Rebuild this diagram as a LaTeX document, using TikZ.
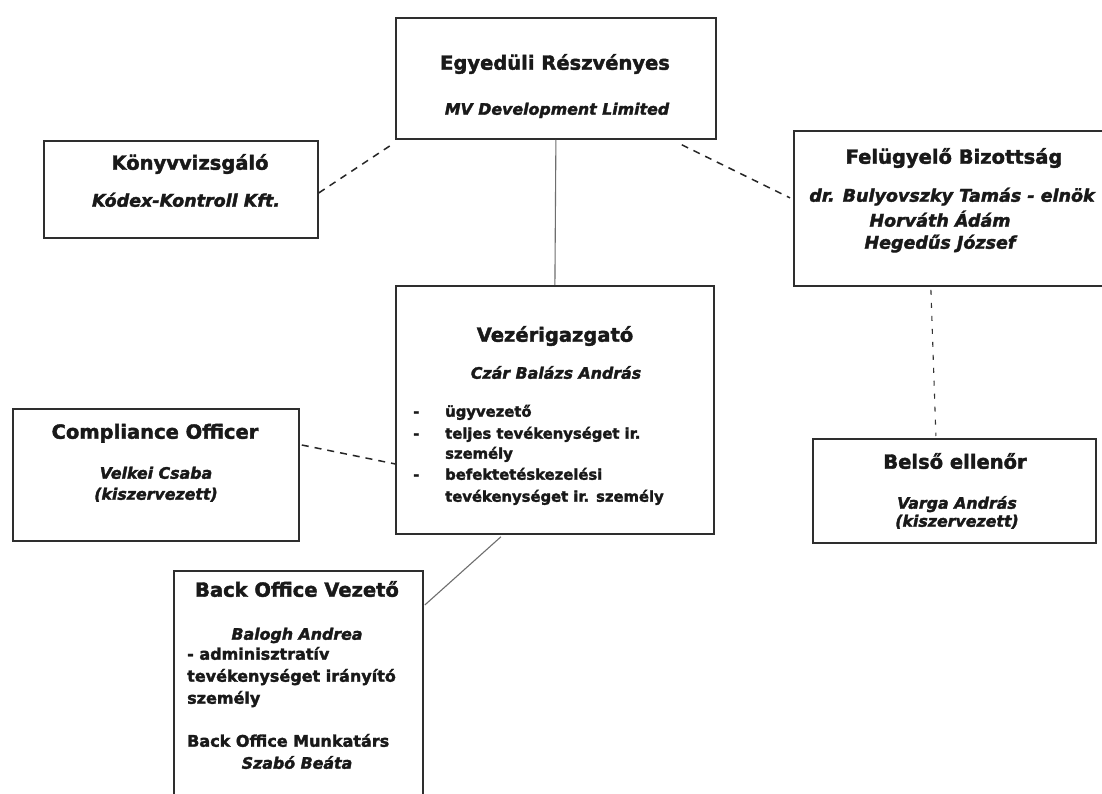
\documentclass[tikz,border=0pt]{standalone}
\usepackage{fontspec}
\setmainfont{DejaVu Sans}[BoldFeatures={FakeBold=2},BoldItalicFeatures={FakeBold=2}]
\definecolor{boxcol}{HTML}{2E2E2E}
\definecolor{solidcol}{HTML}{6E6E6E}
\newcommand\ttlsz{\fontsize{19.5}{23}\selectfont\bfseries}
\newcommand\itsz{\fontsize{15.8}{19}\selectfont\bfseries\itshape}
\newcommand\itbigsz{\fontsize{17.5}{21}\selectfont\bfseries\itshape}
\newcommand\bdsz{\fontsize{14.8}{18}\selectfont\bfseries}
\newcommand\bdbigsz{\fontsize{16}{19}\selectfont\bfseries}
\begin{document}
\begin{tikzpicture}[x=1pt,y=-1pt,
  orgbox/.style={draw=boxcol, line width=1.8pt, inner sep=0pt, anchor=north west},
  txt/.style={text=black!90, inner sep=0pt, yshift=-4pt},
  ttl/.style={txt, font=\ttlsz, anchor=mid},
  nm/.style={txt, font=\itsz, anchor=mid},
  nmbig/.style={txt, font=\itbigsz, anchor=mid},
  bd/.style={txt, font=\bdsz, anchor=mid west},
  bdbig/.style={txt, font=\bdbigsz, anchor=mid west},
  dashline/.style={draw=black!85, line width=1.5pt, dash pattern=on 7pt off 6pt},
  dotline/.style={draw=black!80, line width=1.1pt, dash pattern=on 5pt off 8pt},
  solidline/.style={draw=solidcol, line width=1.1pt}]
\useasboundingbox (0,0) rectangle (1102,794);
\fill[white] (0,0) rectangle (1102,794);
% boxes
\node[orgbox, minimum width=320pt, minimum height=121pt] (egy) at (395,17) {};
\node[orgbox, minimum width=274pt, minimum height=97pt] (konyv) at (43,140) {};
\node[orgbox, minimum width=317pt, minimum height=155pt] (felu) at (793,130) {};
\node[orgbox, minimum width=318pt, minimum height=248pt] (vez) at (395,285) {};
\node[orgbox, minimum width=286pt, minimum height=132pt] (comp) at (12,408) {};
\node[orgbox, minimum width=283pt, minimum height=104pt] (belso) at (812,438) {};
\node[orgbox, minimum width=249pt, minimum height=240pt] (back) at (173,570) {};
% texts
\node[ttl] (egyt) at (555,63) {Egyedüli Részvényes};
\node[nm] (egyn) at (557,108) {MV Development Limited};
\node[ttl] (konyvt) at (190,163) {Könyvvizsgáló};
\node[nmbig] (konyvn) at (186,200) {Kódex-Kontroll Kft.};
\node[ttl] (felut) at (954,157) {Felügyelő Bizottság};
\node[nmbig] (felun1) at (952,195) {dr. Bulyovszky Tamás - elnök};
\node[nmbig] (felun2) at (940,220) {Horváth Ádám};
\node[nmbig] (felun3) at (940,242) {Hegedűs József};
\node[ttl] (vezt) at (555,335) {Vezérigazgató};
\node[nm] (vezn) at (556,372) {Czár Balázs András};
\node[bd] (vezd1) at (413,410) {-};
\node[bd] (vezd2) at (413,432) {-};
\node[bd] (vezd3) at (413,473) {-};
\node[bd] (vezl1) at (445,410) {ügyvezető};
\node[bd] (vezl2) at (445,432) {teljes tevékenységet ir.};
\node[bd] (vezl3) at (445,452) {személy};
\node[bd] (vezl4) at (445,473) {befektetéskezelési};
\node[bd] (vezl5) at (445,495) {tevékenységet ir. személy};
\node[ttl] (compt) at (155,432) {Compliance Officer};
\node[nm] (compn1) at (156,472) {Velkei Csaba};
\node[nm] (compn2) at (156,493) {(kiszervezett)};
\node[ttl] (belsot) at (955,462) {Belső ellenőr};
\node[nm] (belson1) at (957,502) {Varga András};
\node[nm] (belson2) at (957,520) {(kiszervezett)};
\node[ttl] (backt) at (297,590) {Back Office Vezető};
\node[nm] (backn) at (297,633) {Balogh Andrea};
\node[bdbig] (backl1) at (187,653) {- adminisztratív};
\node[bdbig] (backl2) at (187,675) {tevékenységet irányító};
\node[bdbig] (backl3) at (187,697) {személy};
\node[bdbig] (backl4) at (187,740) {Back Office Munkatárs};
\node[nm] (backn2) at (297,762) {Szabó Beáta};
% connectors
\draw[solidline] (egy.south) -- (vez.north);
\draw[dashline] ([yshift=-3.5pt]konyv.east) -- ([xshift=-2pt,yshift=-4pt]egy.south west);
\draw[dashline] ([xshift=-35pt,yshift=-5pt]egy.south east) -- ([xshift=-3pt,yshift=10.5pt]felu.west);
\draw[dotline] ([xshift=-21.5pt,yshift=-3pt]felu.south) -- ([xshift=-18.5pt,yshift=2pt]belso.north);
\draw[dashline] ([xshift=2pt,yshift=-37pt]comp.north east) -- ([yshift=-54pt]vez.west);
\draw[solidline] ([xshift=-54pt,yshift=-2pt]vez.south) -- ([xshift=1pt,yshift=-35pt]back.north east);
\end{tikzpicture}
\end{document}
